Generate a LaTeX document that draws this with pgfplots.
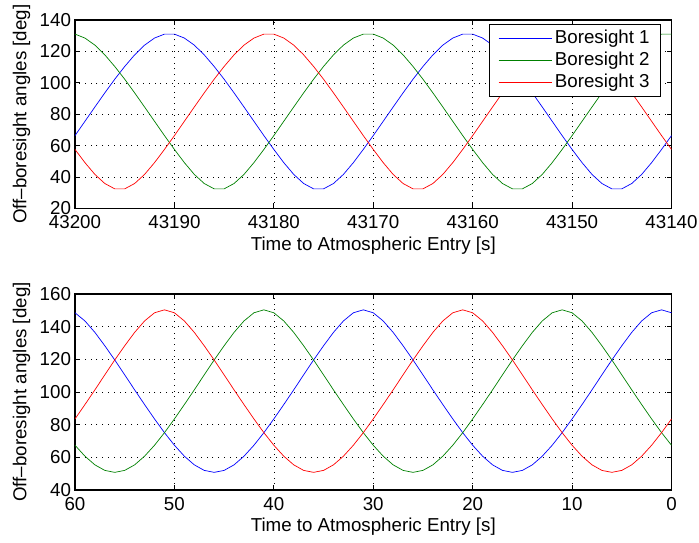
\documentclass[border=0pt]{standalone}
\usepackage{fontspec}
\setmainfont{Liberation Sans}
\usepackage{pgfplots}
\usepackage{pgfplotstable}
\pgfplotsset{compat=1.18}

\pgfplotstableread{
t b1 b2 b3
43200 66.4 131.0 57.6
43199 75.5 128.5 49.2
43198 84.6 124.0 41.7
43197 93.6 117.8 35.9
43196 102.3 110.4 32.5
43195 110.4 102.3 32.5
43194 117.8 93.6 35.9
43193 124.0 84.6 41.7
43192 128.5 75.5 49.2
43191 131.0 66.4 57.6
43190 131.0 57.6 66.4
43189 128.5 49.2 75.5
43188 124.0 41.7 84.6
43187 117.8 35.9 93.6
43186 110.4 32.5 102.3
43185 102.3 32.5 110.4
43184 93.6 35.9 117.8
43183 84.6 41.7 124.0
43182 75.5 49.2 128.5
43181 66.4 57.6 131.0
43180 57.6 66.4 131.0
43179 49.2 75.5 128.5
43178 41.7 84.6 124.0
43177 35.9 93.6 117.8
43176 32.5 102.3 110.4
43175 32.5 110.4 102.3
43174 35.9 117.8 93.6
43173 41.7 124.0 84.6
43172 49.2 128.5 75.5
43171 57.6 131.0 66.4
43170 66.4 131.0 57.6
43169 75.5 128.5 49.2
43168 84.6 124.0 41.7
43167 93.6 117.8 35.9
43166 102.3 110.4 32.5
43165 110.4 102.3 32.5
43164 117.8 93.6 35.9
43163 124.0 84.6 41.7
43162 128.5 75.5 49.2
43161 131.0 66.4 57.6
43160 131.0 57.6 66.4
43159 128.5 49.2 75.5
43158 124.0 41.7 84.6
43157 117.8 35.9 93.6
43156 110.4 32.5 102.3
43155 102.3 32.5 110.4
43154 93.6 35.9 117.8
43153 84.6 41.7 124.0
43152 75.5 49.2 128.5
43151 66.4 57.6 131.0
43150 57.6 66.4 131.0
43149 49.2 75.5 128.5
43148 41.7 84.6 124.0
43147 35.9 93.6 117.8
43146 32.5 102.3 110.4
43145 32.5 110.4 102.3
43144 35.9 117.8 93.6
43143 41.7 124.0 84.6
43142 49.2 128.5 75.5
43141 57.6 131.0 66.4
43140 66.4 131.0 57.6
}\toptable

\pgfplotstableread{
t b1 b2 b3
0 148.5 67.4 83.5
1 150.3 75.1 75.1
2 148.5 83.5 67.4
3 143.5 92.3 60.7
4 136.5 101.3 55.4
5 128.3 110.5 52.0
6 119.6 119.6 50.8
7 110.5 128.3 52.0
8 101.3 136.5 55.4
9 92.3 143.5 60.7
10 83.5 148.5 67.4
11 75.1 150.3 75.1
12 67.4 148.5 83.5
13 60.7 143.5 92.3
14 55.4 136.5 101.3
15 52.0 128.3 110.5
16 50.8 119.6 119.6
17 52.0 110.5 128.3
18 55.4 101.3 136.5
19 60.7 92.3 143.5
20 67.4 83.5 148.5
21 75.1 75.1 150.3
22 83.5 67.4 148.5
23 92.3 60.7 143.5
24 101.3 55.4 136.5
25 110.5 52.0 128.3
26 119.6 50.8 119.6
27 128.3 52.0 110.5
28 136.5 55.4 101.3
29 143.5 60.7 92.3
30 148.5 67.4 83.5
31 150.3 75.1 75.1
32 148.5 83.5 67.4
33 143.5 92.3 60.7
34 136.5 101.3 55.4
35 128.3 110.5 52.0
36 119.6 119.6 50.8
37 110.5 128.3 52.0
38 101.3 136.5 55.4
39 92.3 143.5 60.7
40 83.5 148.5 67.4
41 75.1 150.3 75.1
42 67.4 148.5 83.5
43 60.7 143.5 92.3
44 55.4 136.5 101.3
45 52.0 128.3 110.5
46 50.8 119.6 119.6
47 52.0 110.5 128.3
48 55.4 101.3 136.5
49 60.7 92.3 143.5
50 67.4 83.5 148.5
51 75.1 75.1 150.3
52 83.5 67.4 148.5
53 92.3 60.7 143.5
54 101.3 55.4 136.5
55 110.5 52.0 128.3
56 119.6 50.8 119.6
57 128.3 52.0 110.5
58 136.5 55.4 101.3
59 143.5 60.7 92.3
60 148.5 67.4 83.5
}\bottable

\definecolor{mblue}{rgb}{0,0,1}
\definecolor{mgreen}{rgb}{0,0.5,0}
\definecolor{mred}{rgb}{1,0,0}

\pgfplotsset{
  mstyle/.style={
    scale only axis,
    width=596.5bp,
    x dir=reverse,
    font=\fontsize{18.8}{21}\selectfont,
    /pgf/number format/assume math mode=true,
    /pgf/number format/1000 sep={},
    scaled ticks=false,
    axis line style={line width=1.1bp, black},
    every tick/.style={black, line width=0.8bp},
    major tick length=5bp,
    grid=major,
    major grid style={black, line width=0.6bp, dash pattern=on 0.8bp off 5bp},
    xticklabel style={yshift=-3.5bp},
    yticklabel style={xshift=-0.5bp},
    xlabel={Time to Atmospheric Entry [s]},
    ylabel={Off\textendash boresight angles [deg]},
    every axis x label/.style={at={(axis description cs:0.5,0)}, anchor=center, yshift=-37bp},
    every axis y label/.style={at={(axis description cs:-0.0897,0.5)}, anchor=center, rotate=90},
    every axis plot/.append style={line width=0.7bp},
    clip=true,
  }
}

\begin{document}
\begin{tikzpicture}[x=1bp,y=1bp]
\path[use as bounding box] (0,0) rectangle (699,543);

\begin{axis}[mstyle,
  at={(75bp,334.5bp)}, anchor=south west,
  height=188.5bp,
  xmin=43140, xmax=43200, ymin=20, ymax=140,
  xtick={43140,43150,...,43200},
  ytick={20,40,...,140},
  legend cell align=left,
  legend style={at={(rel axis cs:0.6946,0.979)}, anchor=north west,
    draw=black, line width=1bp, fill=white,
    font=\fontsize{18.8}{21}\selectfont,
    inner xsep=8bp, inner ysep=3bp, row sep=0bp,
    nodes={inner sep=2.5bp, text height=14bp, text depth=3bp}},
  legend image code/.code={\draw[#1, line width=1.6bp] (0bp,0bp) -- (53bp,0bp);},
]
\addplot[mblue] table[x=t, y=b1] {\toptable};
\addlegendentry{Boresight 1}
\addplot[mgreen] table[x=t, y=b2] {\toptable};
\addlegendentry{Boresight 2}
\addplot[mred] table[x=t, y=b3] {\toptable};
\addlegendentry{Boresight 3}
\end{axis}

\begin{axis}[mstyle,
  at={(75bp,53bp)}, anchor=south west,
  height=196bp,
  xmin=0, xmax=60, ymin=40, ymax=160,
  xtick={0,10,...,60},
  ytick={40,60,...,160},
]
\addplot[mblue] table[x=t, y=b1] {\bottable};
\addplot[mgreen] table[x=t, y=b2] {\bottable};
\addplot[mred] table[x=t, y=b3] {\bottable};
\end{axis}
\end{tikzpicture}
\end{document}
